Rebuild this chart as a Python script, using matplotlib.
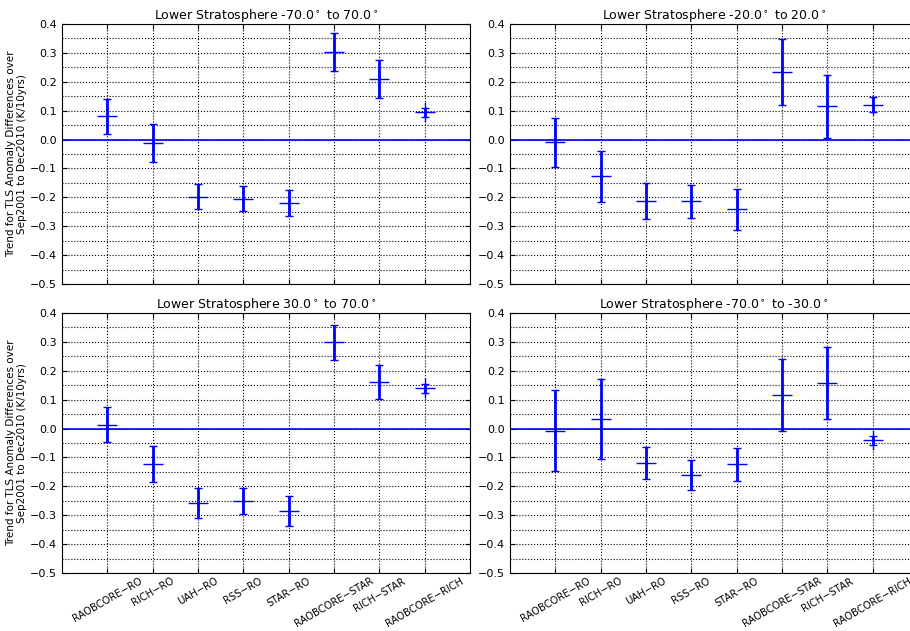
import numpy as np
from matplotlib import pyplot as plt
from matplotlib.ticker import MultipleLocator

pairs = ['RAOBCORE\u2212RO', 'RICH\u2212RO', 'UAH\u2212RO', 'RSS\u2212RO', 'STAR\u2212RO',
         'RAOBCORE\u2212STAR', 'RICH\u2212STAR', 'RAOBCORE\u2212RICH']

titles = ['Lower Stratosphere -70.0$^\\circ$ to 70.0$^\\circ$',
          'Lower Stratosphere -20.0$^\\circ$ to 20.0$^\\circ$',
          'Lower Stratosphere 30.0$^\\circ$ to 70.0$^\\circ$',
          'Lower Stratosphere -70.0$^\\circ$ to -30.0$^\\circ$']

# trends and 2-sigma errors per panel
trend_glob = [0.080, -0.012, -0.198, -0.205, -0.218, 0.302, 0.210, 0.094]
err_glob = [0.062, 0.066, 0.043, 0.043, 0.045, 0.066, 0.067, 0.015]
trend_trop = [-0.010, -0.127, -0.214, -0.214, -0.241, 0.234, 0.115, 0.121]
err_trop = [0.084, 0.089, 0.062, 0.058, 0.071, 0.113, 0.108, 0.025]
trend_nh = [0.014, -0.124, -0.257, -0.251, -0.285, 0.299, 0.161, 0.139]
err_nh = [0.061, 0.062, 0.052, 0.045, 0.053, 0.061, 0.059, 0.015]
trend_sh = [-0.007, 0.032, -0.120, -0.160, -0.124, 0.116, 0.157, -0.041]
err_sh = [0.140, 0.139, 0.056, 0.051, 0.057, 0.124, 0.125, 0.015]

trends = [trend_glob, trend_trop, trend_nh, trend_sh]
errs = [err_glob, err_trop, err_nh, err_sh]

ylab = 'Trend for TLS Anomaly Differences over\nSep2001 to Dec2010 (K/10yrs)'

fig = plt.figure(figsize=(9.1, 6.31), dpi=100)
fig.patch.set_facecolor('white')

# axes boxes (figure fraction), right column runs past the edge like the original
boxes = [[0.0681, 0.5499, 0.4484, 0.412],
         [0.5604, 0.5499, 0.4484, 0.412],
         [0.0681, 0.0919, 0.4484, 0.412],
         [0.5604, 0.0919, 0.4484, 0.412]]

x = np.arange(1, len(pairs) + 1)

for i in range(4):
    ax = fig.add_axes(boxes[i])
    ax.axhline(0, color='b', lw=1.2)
    ax.errorbar(x, trends[i], yerr=errs[i], fmt='+', color='b', ms=14, mew=1,
                elinewidth=2, capsize=3, capthick=1.2)
    ax.set_xlim(0, 9)
    ax.set_ylim(-0.5, 0.4)
    ax.set_xticks(x)
    ax.yaxis.set_major_locator(MultipleLocator(0.1))
    ax.yaxis.set_minor_locator(MultipleLocator(0.05))
    ax.grid(which='both', color='k', linestyle=':', linewidth=0.8)
    ax.tick_params(which='both', direction='in', top=True, right=True, labelsize=8)
    ax.tick_params(which='minor', length=0)
    ax.tick_params(axis='x', pad=2)
    ax.set_title(titles[i], fontsize=9, pad=3)
    if i < 2:
        ax.set_xticklabels([])
    else:
        ax.set_xticklabels(pairs, rotation=30, ha='center', fontsize=7.2)
    if i % 2 == 0:
        ax.set_ylabel(ylab, fontsize=7.5, labelpad=2)

plt.savefig('out.png', dpi=100)
